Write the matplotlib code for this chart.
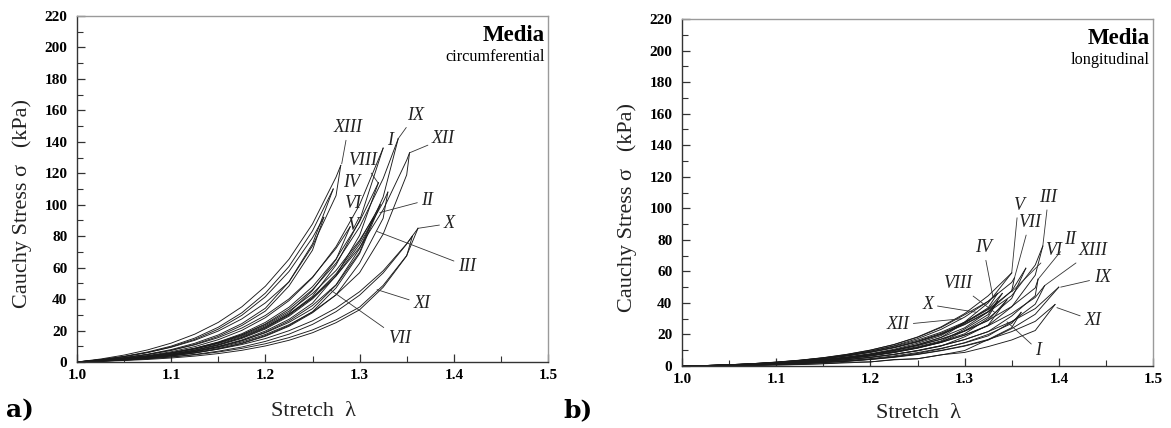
import matplotlib
matplotlib.use("Agg")
import matplotlib.pyplot as plt
from matplotlib.ticker import MultipleLocator

# ---------------- data ----------------
LAM_GRID = [1.000, 1.025, 1.050, 1.075, 1.100, 1.125, 1.150, 1.175,
            1.200, 1.225, 1.250, 1.275, 1.300, 1.325, 1.350, 1.375]

# (a) media, circumferential: loading / unloading stress (kPa) on LAM_GRID, then peak point
circ_peak = {
    "I": (1.325, 136), "II": (1.322, 100), "III": (1.315, 92), "IV": (1.272, 110),
    "V": (1.290, 86), "VI": (1.262, 92), "VII": (1.330, 108), "VIII": (1.320, 114),
    "IX": (1.341, 142), "X": (1.362, 85), "XI": (1.356, 80), "XII": (1.353, 133),
    "XIII": (1.280, 125),
}
circ_load = {
    "I":    [0, 0.98, 2.31, 4.10, 6.52, 9.78, 14.2, 20.1, 28.2, 39.0, 53.6, 73.4, 100.0],
    "II":   [0, 0.75, 1.77, 3.14, 4.99, 7.49, 10.9, 15.4, 21.5, 29.8, 41.0, 56.1, 76.5],
    "III":  [0, 0.94, 2.18, 3.80, 5.95, 8.77, 12.5, 17.4, 23.8, 32.3, 43.5, 58.2, 77.5],
    "IV":   [0, 1.53, 3.59, 6.38, 10.1, 15.2, 22.1, 31.3, 43.8, 60.7, 83.4],
    "V":    [0, 1.17, 2.70, 4.73, 7.40, 10.9, 15.5, 21.6, 29.6, 40.1, 54.0, 72.3],
    "VI":   [0, 1.45, 3.40, 6.05, 9.60, 14.4, 20.9, 29.7, 41.5, 57.5, 79.0],
    "VII":  [0, 0.74, 1.73, 3.07, 4.87, 7.31, 10.6, 15.0, 21.0, 29.1, 40.1, 54.8, 74.8, 101.6],
    "VIII": [0, 0.88, 2.06, 3.66, 5.82, 8.74, 12.7, 18.0, 25.2, 34.8, 47.9, 65.5, 89.4],
    "IX":   [0, 0.84, 1.98, 3.52, 5.59, 8.39, 12.2, 17.3, 24.2, 33.5, 46.0, 62.9, 85.8, 116.6],
    "X":    [0, 0.66, 1.52, 2.61, 4.02, 5.83, 8.15, 11.1, 14.9, 19.9, 26.2, 34.3, 44.7, 58.0, 75.2],
    "XI":   [0, 0.52, 1.19, 2.09, 3.27, 4.82, 6.86, 9.54, 13.1, 17.7, 23.9, 32.0, 42.5, 56.6, 75.0],
    "XII":  [0, 0.88, 2.05, 3.58, 5.59, 8.24, 11.7, 16.3, 22.4, 30.4, 40.8, 54.7, 72.8, 96.8, 128.3],
    "XIII": [0, 1.90, 4.40, 7.70, 12.0, 17.7, 25.2, 35.1, 48.2, 65.3, 87.8, 117.6],
}
circ_unload = {
    "I":    [0, 0.76, 1.80, 3.20, 5.09, 7.63, 11.1, 15.7, 22.0, 30.4, 41.8, 61.7, 90.0],
    "II":   [0, 0.59, 1.38, 2.45, 3.89, 5.84, 8.50, 12.0, 16.8, 23.2, 32.0, 47.1, 68.9],
    "III":  [0, 0.73, 1.70, 2.96, 4.64, 6.84, 9.75, 13.6, 18.6, 25.2, 33.9, 48.9, 69.8],
    "IV":   [0, 1.19, 2.80, 4.98, 7.88, 11.9, 17.2, 24.4, 34.2, 51.0, 75.1],
    "V":    [0, 0.91, 2.11, 3.69, 5.77, 8.50, 12.1, 16.8, 23.1, 31.3, 45.4, 65.1],
    "VI":   [0, 1.13, 2.65, 4.72, 7.49, 11.2, 16.3, 23.2, 32.4, 48.3, 71.1],
    "VII":  [0, 0.58, 1.35, 2.39, 3.80, 5.70, 8.27, 11.7, 16.4, 22.7, 31.3, 42.7, 62.8, 91.4],
    "VIII": [0, 0.69, 1.61, 2.85, 4.54, 6.82, 9.91, 14.0, 19.7, 27.1, 37.4, 55.0, 80.5],
    "IX":   [0, 0.66, 1.54, 2.75, 4.36, 6.54, 9.52, 13.5, 18.9, 26.1, 35.9, 49.1, 72.1, 104.9],
    "X":    [0, 0.51, 1.19, 2.04, 3.14, 4.55, 6.36, 8.66, 11.6, 15.5, 20.4, 26.8, 34.9, 48.7, 67.7],
    "XI":   [0, 0.41, 0.93, 1.63, 2.55, 3.76, 5.35, 7.44, 10.2, 13.8, 18.6, 25.0, 33.2, 47.5, 67.5],
    "XII":  [0, 0.69, 1.60, 2.79, 4.36, 6.43, 9.13, 12.7, 17.5, 23.7, 31.8, 42.7, 56.8, 81.3, 119.0],
    "XIII": [0, 1.48, 3.43, 6.01, 9.36, 13.8, 19.7, 27.4, 37.6, 50.9, 73.8, 105.8],
}

# (b) media, longitudinal
long_peak = {
    "I": (1.360, 34), "II": (1.378, 55), "III": (1.383, 76), "IV": (1.335, 46),
    "V": (1.350, 59), "VI": (1.365, 62), "VII": (1.353, 56), "VIII": (1.345, 42),
    "IX": (1.400, 50), "X": (1.335, 41), "XI": (1.396, 39), "XII": (1.340, 46),
    "XIII": (1.385, 51),
}
long_load = {
    "I":    [0, 0.1, 0.3, 0.6, 1.0, 1.5, 2.2, 3.1, 4.3, 5.9, 8.0, 10.9, 14.8, 20.0, 27.0],
    "II":   [0, 0.2, 0.6, 1.1, 1.8, 2.7, 3.9, 5.4, 7.4, 9.9, 13.1, 17.1, 22.3, 29.0, 37.7, 49.5],
    "III":  [0, 0.3, 0.7, 1.3, 2.1, 3.1, 4.5, 6.3, 8.6, 11.5, 15.2, 20.0, 26.2, 34.2, 44.6, 64.0],
    "IV":   [0, 0.3, 0.8, 1.5, 2.5, 3.7, 5.3, 7.4, 10.1, 13.6, 18.2, 24.4, 32.5, 41.0],
    "V":    [0, 0.3, 0.8, 1.5, 2.4, 3.6, 5.2, 7.3, 10.0, 13.6, 18.4, 24.8, 33.2, 44.5],
    "VI":   [0, 0.3, 0.7, 1.3, 2.1, 3.2, 4.6, 6.4, 8.8, 11.8, 15.7, 20.7, 27.2, 35.8, 47.5],
    "VII":  [0, 0.3, 0.7, 1.3, 2.2, 3.3, 4.8, 6.8, 9.4, 12.8, 17.3, 23.2, 31.0, 41.0, 53.0],
    "VIII": [0, 0.2, 0.6, 1.1, 1.8, 2.7, 3.9, 5.4, 7.3, 9.8, 12.9, 16.9, 22.0, 28.8],
    "IX":   [0, 0.2, 0.4, 0.8, 1.3, 2.0, 2.9, 4.0, 5.5, 7.4, 9.8, 12.9, 16.8, 21.8, 28.2, 36.4],
    "X":    [0, 0.3, 0.8, 1.4, 2.3, 3.4, 4.8, 6.6, 8.9, 11.8, 15.5, 20.3, 26.5, 34.5],
    "XI":   [0, 0.1, 0.3, 0.6, 1.0, 1.5, 2.2, 3.1, 4.2, 5.7, 7.5, 9.9, 12.9, 16.8, 21.8, 28.3],
    "XII":  [0, 0.3, 0.8, 1.5, 2.4, 3.6, 5.1, 7.0, 9.4, 12.5, 16.4, 21.4, 27.8, 36.2],
    "XIII": [0, 0.2, 0.5, 0.9, 1.5, 2.3, 3.3, 4.6, 6.3, 8.5, 11.3, 14.9, 19.5, 25.5, 33.3, 43.5],
}
long_unload = {
    "I":    [0, 0.1, 0.2, 0.3, 0.6, 0.9, 1.4, 2.0, 2.6, 3.9, 4.6, 7.0, 9.8, 16.8, 24.3],
    "II":   [0, 0.15, 0.45, 0.8, 1.4, 2.0, 2.9, 4.1, 5.6, 7.4, 9.8, 12.8, 16.7, 21.8, 31.7, 44.6],
    "III":  [0, 0.2, 0.5, 1.0, 1.6, 2.3, 3.4, 4.7, 6.5, 8.6, 11.4, 15.0, 19.7, 25.7, 37.5, 57.6],
    "IV":   [0, 0.2, 0.6, 1.1, 1.8, 2.7, 3.9, 5.5, 7.5, 10.1, 13.5, 18.1, 27.3, 36.9],
    "V":    [0, 0.2, 0.6, 1.2, 1.9, 2.8, 4.1, 5.7, 7.8, 10.6, 14.4, 19.3, 27.9, 40.0],
    "VI":   [0, 0.2, 0.5, 1.0, 1.6, 2.4, 3.5, 4.8, 6.6, 8.9, 11.8, 15.5, 20.4, 30.1, 42.8],
    "VII":  [0, 0.2, 0.5, 1.0, 1.7, 2.6, 3.7, 5.3, 7.3, 10.0, 13.5, 18.1, 24.2, 34.4, 47.7],
    "VIII": [0, 0.15, 0.45, 0.8, 1.3, 2.0, 2.9, 4.0, 5.4, 7.3, 9.6, 12.6, 18.5, 25.9],
    "IX":   [0, 0.15, 0.3, 0.6, 1.0, 1.5, 2.2, 3.0, 4.1, 5.5, 7.3, 9.7, 12.6, 16.4, 23.7, 32.8],
    "X":    [0, 0.2, 0.6, 1.0, 1.7, 2.5, 3.6, 4.9, 6.6, 8.8, 11.5, 15.1, 22.3, 31.1],
    "XI":   [0, 0.1, 0.2, 0.4, 0.7, 1.0, 1.5, 2.4, 2.6, 4.1, 4.6, 7.1, 8.6, 12.3, 16.5, 22.5],
    "XII":  [0, 0.2, 0.6, 1.1, 1.8, 2.7, 3.8, 5.2, 7.0, 9.3, 12.2, 15.9, 23.4, 32.6],
    "XIII": [0, 0.15, 0.4, 0.7, 1.1, 1.7, 2.5, 3.5, 4.7, 6.4, 8.5, 11.2, 14.6, 19.1, 28.0, 39.2],
}

X_TICKS = [1.0, 1.1, 1.2, 1.3, 1.4, 1.5]
Y_TICKS = [0, 20, 40, 60, 80, 100, 120, 140, 160, 180, 200, 220]

# label annotations: (text, text position, leader target or None)
circ_labels = [
    ("XIII", (1.288, 149), (1.281, 126)),
    ("IX", (1.359, 157), (1.341, 142)),
    ("I", (1.332, 141), None),
    ("XII", (1.389, 142), (1.353, 133)),
    ("VIII", (1.303, 128), (1.3195, 114)),
    ("IV", (1.292, 114), None),
    ("VI", (1.293, 101), None),
    ("V", (1.292, 87), None),
    ("II", (1.372, 103), (1.3215, 95)),
    ("X", (1.395, 88), (1.362, 85)),
    ("III", (1.414, 61), (1.3185, 83)),
    ("XI", (1.366, 37), (1.3185, 46)),
    ("VII", (1.342, 15), (1.2686, 46)),
]
long_labels = [
    ("V", (1.357, 102), (1.350, 59)),
    ("VII", (1.369, 91), (1.353, 56)),
    ("III", (1.389, 107), (1.383, 76)),
    ("IV", (1.320, 75), (1.330, 44)),
    ("VI", (1.394, 73), (1.350, 47)),
    ("II", (1.412, 80), (1.378, 55)),
    ("XIII", (1.436, 73), (1.385, 51)),
    ("IX", (1.446, 56), (1.402, 50)),
    ("XI", (1.436, 29), (1.398, 37)),
    ("I", (1.378, 10), (1.345, 28)),
    ("X", (1.261, 39), (1.313, 34)),
    ("XII", (1.229, 26), (1.297, 30)),
    ("VIII", (1.292, 52), (1.332, 34)),
]

# ---------------- plotting ----------------
SERIF = ["Liberation Serif", "DejaVu Serif"]
plt.rcParams["font.family"] = SERIF

fig = plt.figure(figsize=(11.71, 4.28), dpi=100)
W, H = 1171.0, 428.0


def make_axes(x0, y0, x1, y1):
    return fig.add_axes([x0 / W, 1 - y1 / H, (x1 - x0) / W, (y1 - y0) / H])


def style(ax):
    ax.set_xlim(1.0, 1.5)
    ax.set_ylim(0, 220)
    ax.set_xticks(X_TICKS)
    ax.set_yticks(Y_TICKS)
    ax.set_xticklabels([f"{v:.1f}" for v in X_TICKS])
    ax.set_yticklabels([str(v) for v in Y_TICKS])
    ax.xaxis.set_minor_locator(MultipleLocator(0.05))
    ax.yaxis.set_minor_locator(MultipleLocator(10))
    ax.tick_params(which="both", direction="in", top=False, right=False)
    ax.tick_params(which="major", length=6, width=0.9, color="#333333", pad=5)
    ax.tick_params(which="minor", length=4, width=0.8, color="#333333")
    ax.tick_params(axis="y", which="major", pad=7)
    for lab in ax.get_xticklabels() + ax.get_yticklabels():
        lab.set_fontweight("bold")
        lab.set_fontsize(11)
    for s in ("left", "bottom"):
        ax.spines[s].set_color("#333333")
        ax.spines[s].set_linewidth(1.0)
    for s in ("top", "right"):
        ax.spines[s].set_color("#9a9a9a")
        ax.spines[s].set_linewidth(1.0)


def draw_curves(ax, load, unload, peak):
    for key in load:
        pl, ps = peak[key]
        for vals in (load[key], unload[key]):
            xs = LAM_GRID[:len(vals)] + [pl]
            ys = vals + [ps]
            ax.plot(xs, ys, color="#1a1a1a", lw=0.65, solid_joinstyle="round")


def draw_labels(ax, labels):
    for txt, pos, target in labels:
        if target is None:
            ax.text(pos[0], pos[1], txt, fontsize=13, style="italic",
                    ha="center", va="center", color="#222222")
        else:
            ax.annotate(txt, xy=target, xytext=pos, fontsize=13, style="italic",
                        ha="center", va="center", color="#222222",
                        arrowprops=dict(arrowstyle="-", lw=0.6, color="#333333",
                                        shrinkA=1, shrinkB=0))


ax1 = make_axes(77, 16, 548, 362)
style(ax1)
draw_curves(ax1, circ_load, circ_unload, circ_peak)
draw_labels(ax1, circ_labels)
ax1.text(0.993, 0.975, "Media", transform=ax1.transAxes, ha="right", va="top",
         fontsize=16.5, fontweight="bold")
ax1.text(0.993, 0.905, "circumferential", transform=ax1.transAxes, ha="right", va="top",
         fontsize=11.7)

ax2 = make_axes(682, 19, 1153, 366)
style(ax2)
draw_curves(ax2, long_load, long_unload, long_peak)
draw_labels(ax2, long_labels)
ax2.text(0.993, 0.975, "Media", transform=ax2.transAxes, ha="right", va="top",
         fontsize=16.5, fontweight="bold")
ax2.text(0.993, 0.905, "longitudinal", transform=ax2.transAxes, ha="right", va="top",
         fontsize=11.7)

# axis titles
ylab = "Cauchy Stress σ   (kPa)"
fig.text(22 / W, 1 - 203 / H, ylab, rotation=90, ha="center", va="center",
         fontsize=16, color="#222222")
fig.text(627 / W, 1 - 207 / H, ylab, rotation=90, ha="center", va="center",
         fontsize=16, color="#222222")
fig.text(313 / W, 1 - 411 / H, "Stretch  λ", ha="center", va="center",
         fontsize=16, color="#222222")
fig.text(918 / W, 1 - 414 / H, "Stretch  λ", ha="center", va="center",
         fontsize=16, color="#222222")
fig.text(20 / W, 1 - 410 / H, "a)", ha="center", va="center",
         fontsize=18, fontweight="bold", family=["DejaVu Serif"])
fig.text(578 / W, 1 - 410 / H, "b)", ha="center", va="center",
         fontsize=18, fontweight="bold", family=["DejaVu Serif"])

fig.savefig("out.png", dpi=100)
